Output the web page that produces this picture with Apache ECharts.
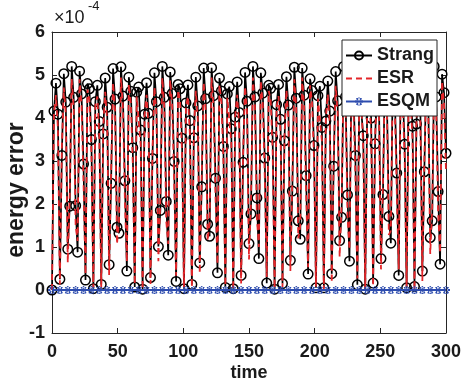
<!DOCTYPE html>
<html><head><meta charset="utf-8">
<script src="https://cdn.jsdelivr.net/npm/echarts@6/dist/echarts.min.js"></script>
<style>html,body{margin:0;padding:0;background:#fff;}#c{width:465px;height:383px;}</style>
</head><body><div id="c"></div>
<script>
const seriesNames = ['Strang', 'ESR', 'ESQM'];
const xTicks = [0, 50, 100, 150, 200, 250, 300];
const yTicks = [-1, 0, 1, 2, 3, 4, 5, 6];
const sampleStep = 1.5;   // time between plotted samples (Strang, ESR)
const esqmStep = 6;       // time between ESQM markers
const strang = [0,4.16,4.81,4.09,0.25,3.13,5.03,4.37,0.95,1.95,
5.2,4.48,1.96,0.88,5.09,4.56,2.93,0.23,4.8,4.68,
3.5,0.03,4.38,4.76,3.92,0.13,3.63,4.93,4.25,0.59,
2.48,5.15,4.44,1.46,1.32,5.19,4.51,2.54,0.44,4.95,
4.62,3.31,0.07,4.6,4.72,3.72,0.02,4.09,4.82,4.11,
0.29,3.06,5.05,4.38,1.01,1.85,5.2,4.48,2.06,0.81,
5.07,4.57,2.99,0.2,4.78,4.68,3.53,0.03,4.35,4.77,
3.94,0.13,3.54,4.95,4.28,0.63,2.4,5.16,4.45,1.53,
1.25,5.17,4.52,2.6,0.4,4.93,4.63,3.34,0.06,4.56,
4.73,3.75,0.03,4.02,4.84,4.13,0.34,2.97,5.06,4.39,
1.08,1.77,5.2,4.49,2.14,0.73,5.05,4.58,3.07,0.16,
4.76,4.69,3.55,0.02,4.31,4.78,3.97,0.15,3.47,4.96,
4.3,0.69,2.3,5.18,4.46,1.61,1.18,5.16,4.53,2.66,
0.37,4.91,4.64,3.36,0.05,4.52,4.74,3.78,0.05,3.93,
4.86,4.16,0.38,2.88,5.08,4.4,1.15,1.69,5.2,4.49,
2.21,0.67,5.04,4.59,3.13,0.12,4.72,4.7,3.59,0.02,
4.28,4.78,4.0,0.16,3.4,4.98,4.32,0.73,2.22,5.2,
4.46,1.71,1.09,5.14,4.54,2.72,0.34,4.88,4.64,3.39,
0.05,4.49,4.74,3.81,0.08,3.86,4.87,4.18,0.44,2.75,
5.1,4.41,1.22,1.61,5.2,4.49,2.29,0.6,5.02,4.59,
3.18];
const esr = [0,4.10,4.53,3.76,0.13,3.32,4.71,4.08,0.64,2.23,
4.91,4.23,1.50,1.14,4.90,4.30,2.51,0.37,4.66,4.41,
3.19,0.05,4.30,4.50,3.58,0.04,3.77,4.61,3.94,0.35,
2.76,4.82,4.18,1.07,1.63,4.94,4.27,2.08,0.66,4.79,
4.35,2.95,0.13,4.50,4.46,3.39,0.02,4.08,4.54,3.79,
0.14,3.25,4.72,4.09,0.67,2.14,4.93,4.24,1.60,1.07,
4.88,4.31,2.57,0.33,4.65,4.41,3.21,0.05,4.28,4.50,
3.61,0.06,3.69,4.63,3.96,0.39,2.67,4.83,4.18,1.14,
1.56,4.94,4.27,2.16,0.60,4.77,4.36,3.0,0.10,4.47,
4.47,3.43,0.01,4.05,4.54,3.82,0.15,3.18,4.73,4.12,
0.71,2.06,4.94,4.26,1.67,1.0,4.86,4.31,2.63,0.30,
4.63,4.42,3.23,0.04,4.25,4.51,3.64,0.07,3.58,4.65,
3.99,0.44,2.56,4.90,4.20,1.20,1.48,4.94,4.27,2.22,
0.53,4.76,4.37,3.06,0.08,4.45,4.47,3.46,0.01,4.01,
4.55,3.85,0.17,3.12,4.75,4.13,0.77,1.99,4.94,4.26,
1.74,0.94,4.85,4.32,2.69,0.27,4.60,4.43,3.28,0.04,
4.22,4.51,3.67,0.09,3.55,4.66,4.01,0.48,2.48,4.91,
4.21,1.28,1.38,4.94,4.28,2.30,0.48,4.74,4.38,3.09,
0.07,4.42,4.47,3.49,0,3.98,4.56,3.88,0.21,3.03,
4.77,4.15,0.84,1.91,4.94,4.26,1.81,0.87,4.85,4.33,
2.75];
const esqm = [0,0,0,0,0,0,0,0,0,0,
0,0,0,0,0,0,0,0,0,0,
0,0,0,0,0,0,0,0,0,0,
0,0,0,0,0,0,0,0,0,0,
0,0,0,0,0,0,0,0,0,0,
0];

const FONT = '"Liberation Sans", Arial, Helvetica, sans-serif';
const AX = '#262626';
const RED = '#e3262a';
const BLUE = '#2d4cae';
const pairs = (arr, step) => arr.map((v, i) => [i * step, v]);
const asterisk = 'path://M-1.3,-5L1.3,-5L1.3,5L-1.3,5Z M1.2,5L3.8,3.7L-1.2,-5L-3.8,-3.7Z M3.8,-3.7L1.2,-5L-3.8,3.7L-1.2,5Z M-5,-1.3L5,-1.3L5,1.3L-5,1.3Z';
const dashIcon = 'path://M0,0L6,0L6,2L0,2Z M10,0L16,0L16,2L10,2Z M20,0L26,0L26,2L20,2Z';

const axisCommon = {
  type: 'value',
  axisLine: { show: true, onZero: false, lineStyle: { color: AX, width: 1 } },
  axisTick: { show: true, inside: true, length: 5, lineStyle: { color: AX, width: 1 } },
  splitLine: { show: false }
};
const labelStyle = { color: '#1a1a1a', fontFamily: FONT, fontWeight: 'bold', fontSize: 18 };

const chart = echarts.init(document.getElementById('c'), null, { renderer: 'canvas' });
chart.setOption({
  animation: false,
  backgroundColor: '#fff',
  grid: { left: 52, right: 19, top: 32, bottom: 50, containLabel: false, outerBoundsMode: 'none' },
  xAxis: [
    Object.assign({}, axisCommon, {
      position: 'bottom', min: xTicks[0], max: xTicks[xTicks.length - 1], interval: xTicks[1] - xTicks[0],
      axisLabel: Object.assign({ margin: 10 }, labelStyle),
      name: 'time', nameLocation: 'middle', nameGap: 31, nameMoveOverlap: false,
      nameTextStyle: Object.assign({}, labelStyle)
    }),
    Object.assign({}, axisCommon, {
      position: 'top', min: xTicks[0], max: xTicks[xTicks.length - 1], interval: xTicks[1] - xTicks[0],
      axisLabel: { show: false }
    })
  ],
  yAxis: [
    Object.assign({}, axisCommon, {
      position: 'left', min: yTicks[0], max: yTicks[yTicks.length - 1], interval: yTicks[1] - yTicks[0],
      axisLabel: Object.assign({ margin: 7 }, labelStyle)
    }),
    Object.assign({}, axisCommon, {
      position: 'right', min: yTicks[0], max: yTicks[yTicks.length - 1], interval: yTicks[1] - yTicks[0],
      axisLabel: { show: false }
    })
  ],
  legend: {
    orient: 'vertical', left: 342, top: 40,
    padding: [6, 3, 5, 3], itemGap: 4,
    itemWidth: 26, itemHeight: 10,
    backgroundColor: '#fff', borderColor: AX, borderWidth: 1, borderRadius: 0,
    textStyle: { color: '#1a1a1a', fontFamily: FONT, fontWeight: 'bold', fontSize: 18, lineHeight: 19 },
    data: [
      { name: seriesNames[0] },
      { name: seriesNames[1], icon: dashIcon, itemStyle: { color: RED } },
      { name: seriesNames[2] }
    ]
  },
  graphic: [
    { type: 'text', left: 54, top: 9, style: { text: '×10', font: '18px ' + FONT, fill: '#1a1a1a' } },
    { type: 'text', left: 88, top: 0, style: { text: '-4', font: '13px ' + FONT, fill: '#1a1a1a' } },
    { type: 'text', x: 17, y: 190, rotation: Math.PI / 2,
      style: { text: 'energy error', font: 'bold 23px ' + FONT, fill: '#1a1a1a', align: 'center', verticalAlign: 'middle' } }
  ],
  series: [
    {
      name: seriesNames[0], type: 'line', data: pairs(strang, sampleStep),
      symbol: 'circle', symbolSize: 9.5, showSymbol: true,
      itemStyle: { color: 'rgba(255,255,255,0)', borderColor: '#000', borderWidth: 1.5 },
      lineStyle: { color: '#000', width: 1.7 },
      emphasis: { disabled: true }, z: 2
    },
    {
      name: seriesNames[1], type: 'line', data: pairs(esr, sampleStep),
      symbol: 'none', showSymbol: false,
      itemStyle: { color: RED },
      lineStyle: { color: RED, width: 1.8, type: [6, 4] },
      emphasis: { disabled: true }, z: 3
    },
    {
      name: seriesNames[2], type: 'line', data: pairs(esqm, esqmStep),
      symbol: asterisk, symbolSize: 8, showSymbol: true,
      itemStyle: { color: BLUE },
      lineStyle: { color: BLUE, width: 2 },
      emphasis: { disabled: true }, z: 4
    }
  ]
});
</script></body></html>
